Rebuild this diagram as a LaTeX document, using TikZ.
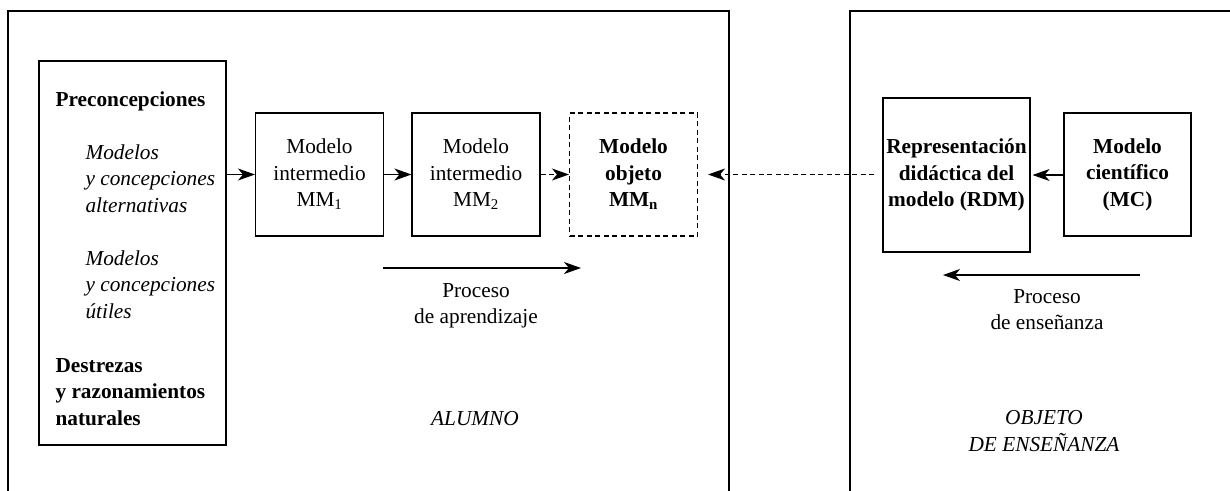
\documentclass[tikz,border=0pt]{standalone}
\usepackage{fontspec}
\setmainfont{Liberation Serif}
\usetikzlibrary{arrows.meta}
\begin{document}
\begin{tikzpicture}[x=1pt,y=-1pt,
  line width=1.1pt,
  every node/.style={font=\fontsize{21.3}{26.5}\selectfont},
  boxn/.style={draw, line width=1.1pt, minimum width=128pt, minimum height=123pt, inner sep=0pt, align=center},
  conn/.style={-{Stealth[length=17pt,width=12pt,inset=5pt]}},
  dsh/.style={dash pattern=on 5pt off 3.5pt},
  txt/.style={inner sep=0pt, align=left, anchor=base west}
]
\useasboundingbox (0,0) rectangle (1230,490);
% frames
\draw (8,492) -- (8,11) -- (729,11) -- (729,492);
\draw (850,492) -- (850,11) -- (1232,11);
% left box
\node[draw, line width=1.1pt, minimum width=187pt, minimum height=384pt, inner sep=0pt] (pre) at (132.5,253) {};
\node[txt] (t1) at (55,106) {\textbf{Preconcepciones}};
\node[txt] (t2) at (85,212) {\itshape Modelos\\\itshape y concepciones\\\itshape alternativas};
\node[txt] (t3) at (85,318) {\itshape Modelos\\\itshape y concepciones\\\itshape útiles};
\node[txt] (t4) at (55,425) {\textbf{Destrezas}\\\textbf{y razonamientos}\\\textbf{naturales}};
% model boxes
\node[boxn] (mm1) at (319.5,174.5) {Modelo\\intermedio\\MM\textsubscript{1}};
\node[boxn] (mm2) at (476,174.5) {Modelo\\intermedio\\MM\textsubscript{2}};
\node[boxn, dsh] (mmn) at (633.5,174.5) {\textbf{Modelo}\\\textbf{objeto}\\\textbf{MM\textsubscript{n}}};
\node[boxn, minimum width=147pt, minimum height=154pt] (rdm) at (956.5,175) {\textbf{Representación}\\\textbf{didáctica del}\\\textbf{modelo (RDM)}};
\node[boxn, minimum width=127pt] (mc) at (1127.5,174.5) {\textbf{Modelo}\\\textbf{científico}\\\textbf{(MC)}};
% connectors
\draw[conn] (pre.east |- mm1.west) -- (mm1.west);
\draw[conn] (mm1.east) -- (mm2.west);
\draw[conn, dsh] (mm2.east) -- (mmn.west);
\draw[conn, dsh, shorten <=8pt, shorten >=10pt] (rdm.west |- mmn.east) -- (mmn.east);
\draw[conn, shorten >=2pt] (mc.west |- rdm.east) -- (rdm.east);
% process arrows
\coordinate (la1) at (383,268);
\coordinate (la2) at (581,268);
\draw[conn] (la1) -- (la2);
\node[align=center, inner sep=0pt, anchor=base] (lab1) at (476,323.5) {Proceso\\de aprendizaje};
\coordinate (te1) at (1140,275);
\coordinate (te2) at (943,275);
\draw[conn] (te1) -- (te2);
\node[align=center, inner sep=0pt, anchor=base] (lab2) at (1047,329.5) {Proceso\\de enseñanza};
\node[inner sep=0pt, anchor=base] (alu) at (475,425) {\itshape ALUMNO};
\node[align=center, inner sep=0pt, anchor=base] (obj) at (1044,451) {\itshape OBJETO\\\itshape DE ENSEÑANZA};
\end{tikzpicture}
\end{document}
